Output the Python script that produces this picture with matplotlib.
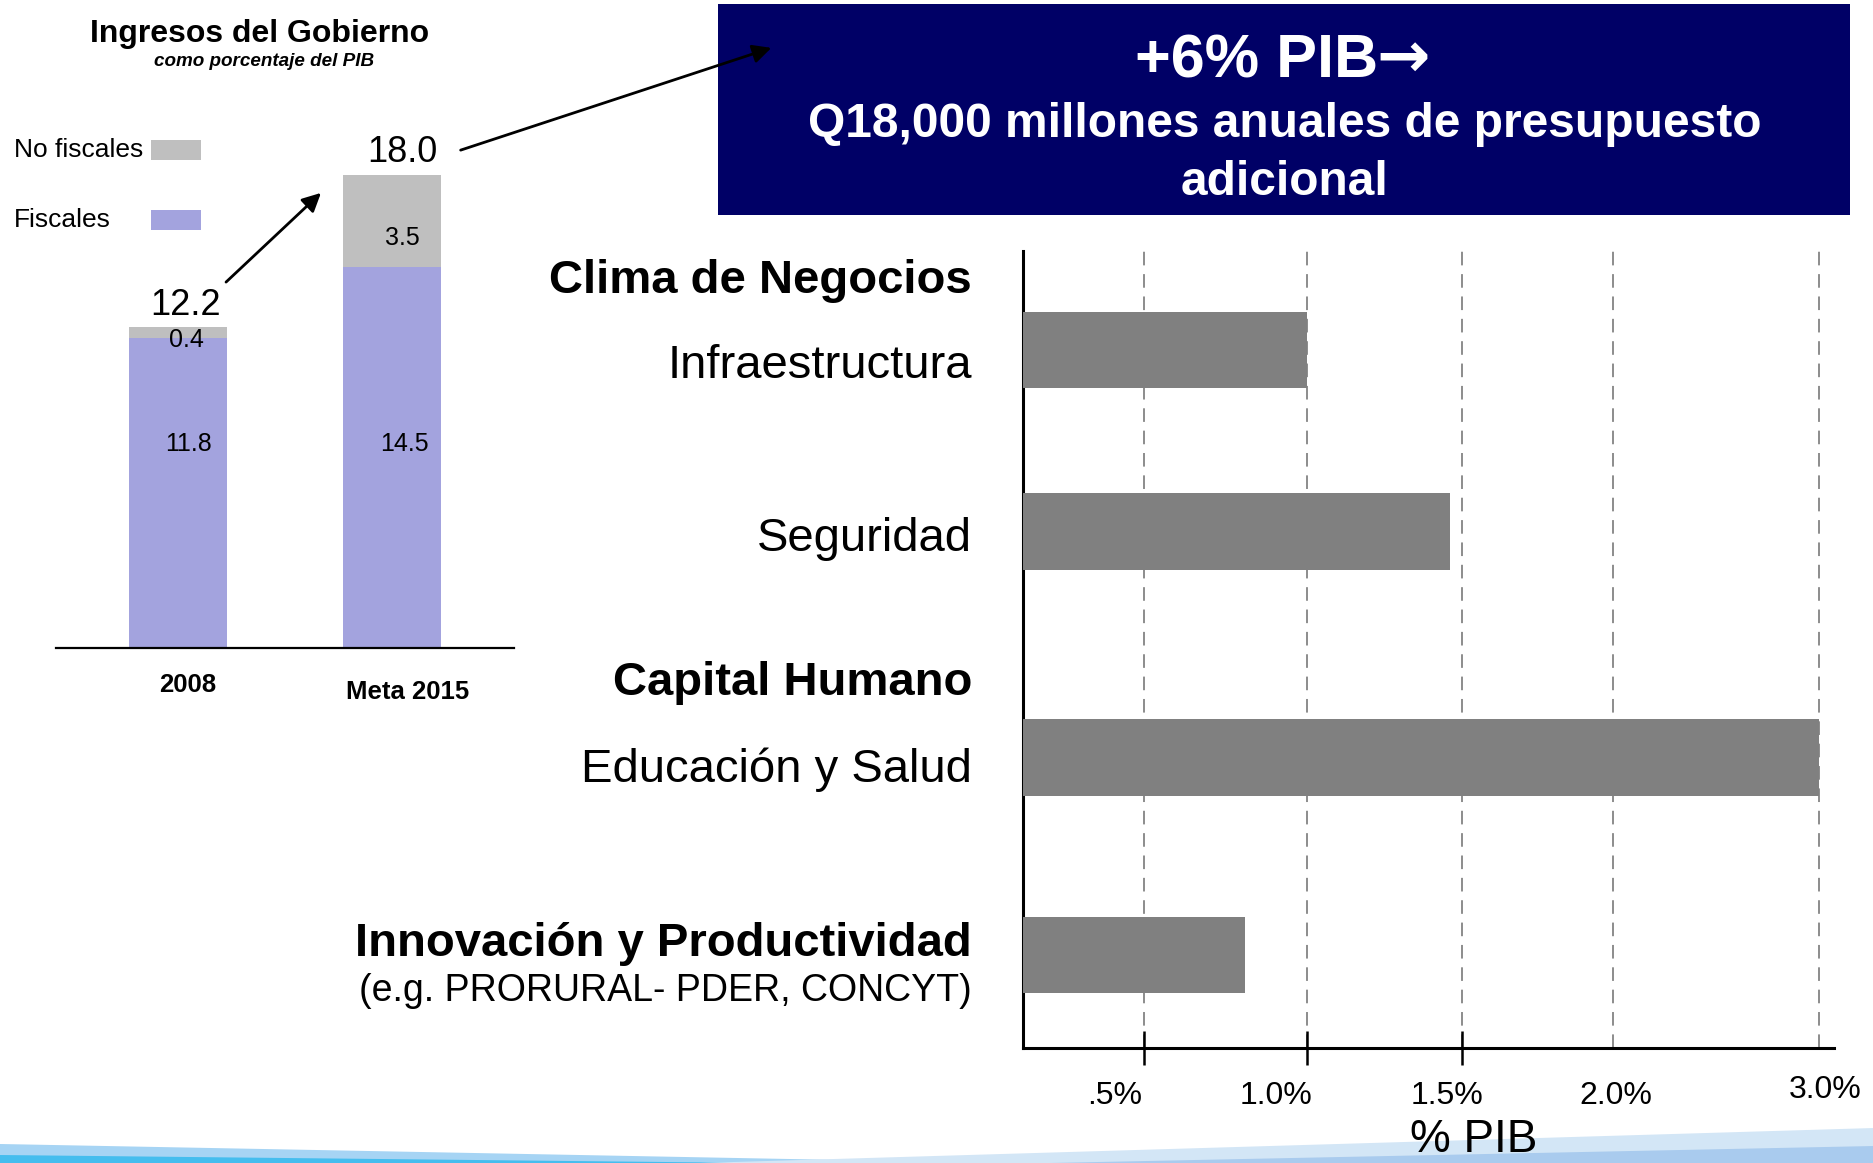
import numpy as np
import matplotlib
matplotlib.use("Agg")
import matplotlib.pyplot as plt
import matplotlib.transforms as mtransforms
from matplotlib.patches import Rectangle, Polygon, FancyArrowPatch

plt.rcParams['font.family'] = ['Liberation Sans', 'DejaVu Sans']

# ---------------- data ----------------
years = ['2008', 'Meta 2015']
fiscales = [11.8, 14.5]
no_fiscales = [0.4, 3.5]
totales = [12.2, 18.0]
legend_labels = ['No fiscales', 'Fiscales']

headers = ['Clima de Negocios', 'Capital Humano', 'Innovación y Productividad']
items = ['Infraestructura', 'Seguridad', 'Educación y Salud', '(e.g. PRORURAL- PDER, CONCYT)']
gasto = [1.0, 1.46, 3.0, 0.81]          # % PIB
tick_vals = [0.5, 1.0, 1.5, 2.0, 3.0]
tick_labels = ['.5%', '1.0%', '1.5%', '2.0%', '3.0%']

# ---------------- layout ----------------
W, H = 1874, 1163
fig = plt.figure(figsize=(W / 100, H / 100), dpi=100)
fig.patch.set_facecolor('white')

def fx(px):
    return px / W

def fy(py):
    return 1 - py / H

PURPLE = '#A3A3DE'
LGREY = '#BFBFBF'
DGREY = '#808080'
NAVY = '#000066'

# background decoration (bottom swoosh)
bg = fig.add_axes([0, 0, 1, 1], zorder=-5)
bg.set_xlim(0, W)
bg.set_ylim(H, 0)
bg.axis('off')
bg.add_patch(Polygon([(0, 1144), (1000, 1163), (0, 1163)], closed=True, fc='#A6D4F4', ec='none'))
bg.add_patch(Polygon([(0, 1155), (0, 1163), (760, 1163)], closed=True, fc='#45BDEE', ec='none'))
bg.add_patch(Polygon([(700, 1163), (1874, 1128), (1874, 1163)], closed=True, fc='#D3E6F6', ec='none'))
bg.add_patch(Polygon([(1050, 1163), (1874, 1146), (1874, 1163)], closed=True, fc='#A9CBEE', ec='none'))

# ---------------- left chart ----------------
ax1 = fig.add_axes([fx(56), fy(648), fx(514 - 56), (648 - 100) / H])
x = np.arange(len(years))
bw = 0.458
ax1.bar(x, fiscales, width=bw, color=PURPLE, zorder=2)
ax1.bar(x, no_fiscales, width=bw, bottom=fiscales, color=LGREY, zorder=2)
ax1.set_xlim(-0.570, 1.570)
ax1.set_ylim(0, 548 / 26.3)
for s in ['top', 'right', 'left']:
    ax1.spines[s].set_visible(False)
ax1.spines['bottom'].set_linewidth(1.6)
ax1.set_yticks([])
ax1.set_xticks(x)
ax1.set_xticklabels(years, fontsize=18.5, fontweight='bold')
ax1.tick_params(axis='x', length=0, pad=18)
lab_dx = [10, 16]
lab_dy = [0, -7]
for lab, dx, dy in zip(ax1.get_xticklabels(), lab_dx, lab_dy):
    lab.set_transform(lab.get_transform() + mtransforms.ScaledTranslation(dx / 100, dy / 100, fig.dpi_scale_trans))

seg_dx = [0.047, 0.06]
fiscal_label_y = 7.74
nf_label_y = [11.7, 15.6]
for i in range(len(years)):
    ax1.text(x[i] + seg_dx[i], fiscal_label_y, f'{fiscales[i]:.1f}', ha='center', va='center', fontsize=18, zorder=3)
    ax1.text(x[i] + seg_dx[i] * 0.8, nf_label_y[i], f'{no_fiscales[i]:.1f}', ha='center', va='center', fontsize=18, zorder=3)
    ax1.annotate(f'{totales[i]:.1f}', (x[i] + seg_dx[i] * 0.8, totales[i]), xytext=(0, 3),
                 textcoords='offset points', ha='center', va='bottom', fontsize=26, zorder=3)

# title & legend
fig.text(fx(260), fy(34), 'Ingresos del Gobierno', ha='center', va='center', fontsize=23, fontweight='bold')
fig.text(fx(264), fy(62), 'como porcentaje del PIB', ha='center', va='center', fontsize=13.6,
         fontweight='bold', fontstyle='italic')
leg_colors = [LGREY, PURPLE]
leg_y = [150, 220]
for lbl, col, yy in zip(legend_labels, leg_colors, leg_y):
    fig.text(fx(14), fy(yy), lbl, ha='left', va='center', fontsize=19)
    fig.add_artist(Rectangle((fx(151), fy(yy + 10)), fx(50), 20 / H, transform=fig.transFigure,
                             fc=col, ec='none'))

# navy box
fig.add_artist(Rectangle((fx(718), fy(215)), fx(1850 - 718), (215 - 4) / H, transform=fig.transFigure,
                         fc=NAVY, ec='none', zorder=1))
fig.text(fx(1378), fy(77), '+6% PIB', ha='right', va='baseline', color='white', fontsize=44,
         fontweight='bold', zorder=2)
fig.text(fx(1376), fy(77), '\u2192', ha='left', va='baseline', color='white', fontsize=46,
         fontweight='bold', family=['DejaVu Sans'], zorder=2)
fig.text(fx(1285), fy(137), 'Q18,000 millones anuales de presupuesto', ha='center', va='baseline',
         color='white', fontsize=34.5, fontweight='bold', zorder=2)
fig.text(fx(1285), fy(195), 'adicional', ha='center', va='baseline', color='white', fontsize=34.5,
         fontweight='bold', zorder=2)

# arrows
fig.add_artist(FancyArrowPatch((fx(224), fy(284)), (fx(323), fy(191)),
               transform=fig.transFigure, arrowstyle='-|>', mutation_scale=28, lw=2, color='black', zorder=3))
fig.add_artist(FancyArrowPatch((fx(458), fy(151)), (fx(774), fy(47)),
               transform=fig.transFigure, arrowstyle='-|>', mutation_scale=28, lw=2, color='black', zorder=3))

# ---------------- right chart ----------------
ax2 = fig.add_axes([fx(1023), fy(1048), fx(1834 - 1023), (1048 - 251) / H])
scale_vals = [-0.5, 0.0, 0.5, 1.0, 1.5, 2.0, 3.0, 3.5]
scale_pos = [-100, 0, 121, 284, 439, 590, 796, 899]

def fwd(v):
    return np.interp(v, scale_vals, scale_pos)

def inv(p):
    return np.interp(p, scale_pos, scale_vals)

ax2.set_xscale('function', functions=(fwd, inv))
ax2.set_xlim(0, 3.073)
row_y = [0.0, 0.9, 2.02, 3.0]
ax2.set_ylim(3.461, -0.491)
ax2.barh(row_y, gasto, height=0.379, color=DGREY, zorder=3)
ax2.vlines(tick_vals, 0, 1, transform=ax2.get_xaxis_transform(), colors='#8C8C8C', lw=1.4,
           linestyles=(0, (7, 4.5)), zorder=1)
for s in ['top', 'right']:
    ax2.spines[s].set_visible(False)
ax2.spines['left'].set_linewidth(2.2)
ax2.spines['bottom'].set_linewidth(2.2)
ax2.set_yticks([])
ax2.set_xticks(tick_vals[:3])
ax2.set_xticklabels([])
ax2.tick_params(axis='x', direction='inout', length=24, width=1.8, color='black')
ax2.minorticks_off()

tick_dx = [-29, -31, -15, 3, 6]
tick_py = [1096, 1096, 1096, 1096, 1090]
for v, lbl, dx, py in zip(tick_vals, tick_labels, tick_dx, tick_py):
    tr = mtransforms.blended_transform_factory(ax2.transData, fig.transFigure) + \
        mtransforms.ScaledTranslation(dx / 100, 0, fig.dpi_scale_trans)
    ax2.text(v, fy(py), lbl, transform=tr, ha='center', va='center', fontsize=23, clip_on=False)

fig.text(fx(1474), fy(1152), '% PIB', ha='center', va='baseline', fontsize=33)

# category labels
RX = fx(972)
fig.text(RX, fy(293), headers[0], ha='right', va='baseline', fontsize=34, fontweight='bold')
fig.text(RX, fy(378), items[0], ha='right', va='baseline', fontsize=34)
fig.text(RX, fy(551), items[1], ha='right', va='baseline', fontsize=34)
fig.text(RX, fy(695), headers[1], ha='right', va='baseline', fontsize=34, fontweight='bold')
fig.text(RX, fy(782), items[2], ha='right', va='baseline', fontsize=34)
fig.text(RX, fy(956), headers[2], ha='right', va='baseline', fontsize=34, fontweight='bold')
fig.text(RX, fy(1001), items[3], ha='right', va='baseline', fontsize=27)

fig.savefig('out.png', dpi=100, facecolor='white')
